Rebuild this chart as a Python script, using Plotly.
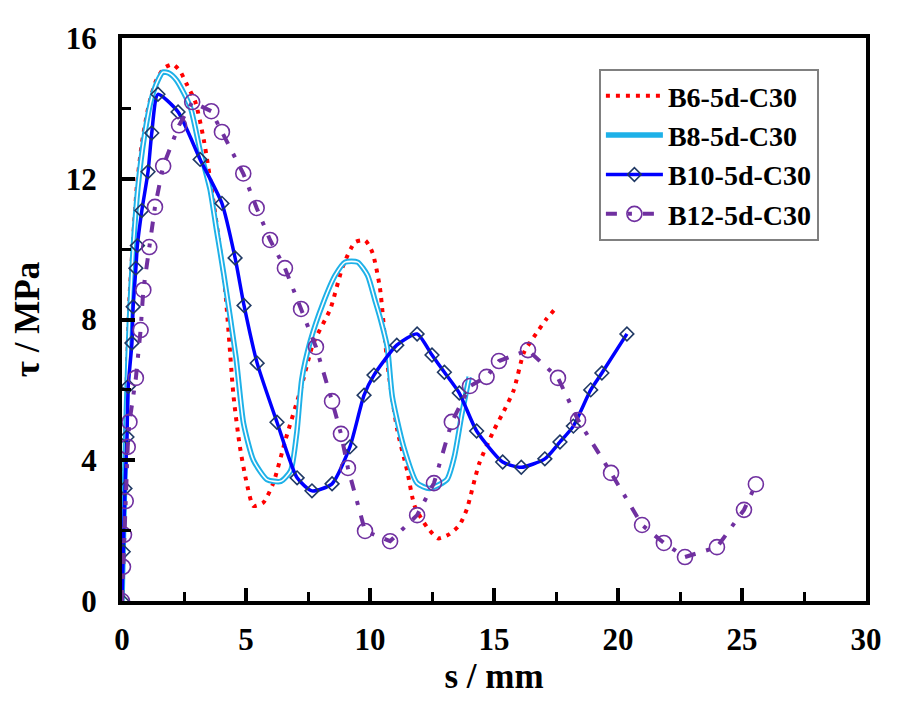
import plotly.graph_objects as go

# ---------------- data ----------------
b6_s = [0, 0.05, 0.1, 0.18, 0.3, 0.45, 0.6, 0.8, 1.05, 1.35, 1.7, 2.05, 2.35, 2.6, 2.95,
        3.3, 3.7, 4.15, 4.5, 4.75, 5.0, 5.3, 5.7, 6.1, 6.6, 7.2, 7.7, 8.4, 8.9, 9.4, 9.8,
        10.1, 10.4, 10.7, 11.1, 11.5, 11.8, 12.3, 12.75, 13.2, 13.6, 13.9, 14.4, 15.0,
        15.4, 15.8, 16.2, 16.7, 17.1, 17.5]
b6_t = [0, 1.5, 3.5, 6.0, 8.6, 10.3, 11.8, 13.0, 14.0, 14.75, 15.15, 15.25, 15.05, 14.7, 14.2,
        13.1, 11.3, 8.9, 5.8, 4.4, 3.45, 2.7, 2.8, 3.35, 4.6, 6.0, 7.3, 8.3, 9.5, 10.2, 10.25,
        9.9, 8.9, 6.75, 4.86, 3.7, 2.7, 2.1, 1.78, 1.9, 2.15, 2.6, 3.9, 4.86,
        5.4, 6.0, 7.05, 7.6, 8.0, 8.33]

b8_s = [0, 0.08, 0.18, 0.3, 0.45, 0.65, 0.9, 1.2, 1.45, 1.65, 1.9, 2.2, 2.75, 3.15, 3.55,
        3.8, 4.1, 4.6, 4.9, 5.3, 5.85, 6.4, 6.8, 7.05, 7.25, 7.6, 8.1, 8.6, 9.0, 9.5, 9.9,
        10.2, 10.4, 10.7, 10.9, 11.35, 11.9, 12.4, 13.1, 13.4, 13.7, 14.0]
b8_t = [0, 2.5, 5.5, 8.0, 10.0, 11.8, 13.2, 14.3, 14.8, 15.03, 15.0, 14.8, 14.05, 12.8, 11.7,
        10.6, 9.3, 6.9, 5.05, 4.0, 3.45, 3.4, 3.7, 4.8, 6.3, 7.4, 8.45, 9.26, 9.63, 9.63, 9.26,
        8.55, 8.07, 7.2, 5.8, 4.4, 3.35, 3.2, 3.45, 4.1, 5.3, 6.37]

b10_s = [0, 0.05, 0.12, 0.2, 0.25, 0.4, 0.45, 0.56, 0.62, 0.8, 1.05, 1.2, 1.45, 2.26, 3.15,
         4.03, 4.56, 4.92, 5.45, 6.25, 7.06, 7.66, 8.47, 9.19, 9.76, 10.16, 11.08, 11.9,
         12.5, 13.0, 13.6, 14.3, 15.35, 16.1, 17.05, 17.66, 18.2, 18.9, 19.35, 20.36]
b10_t = [0, 1.4, 3.2, 4.66, 6.1, 7.33, 8.36, 9.46, 10.1, 11.1, 12.2, 13.3, 14.4, 13.9, 12.55,
         11.3, 9.75, 8.4, 6.76, 5.08, 3.5, 3.13, 3.33, 4.38, 5.85, 6.42, 7.27, 7.59,
         6.99, 6.5, 5.91, 4.83, 3.95, 3.8, 4.04, 4.52, 4.97, 6.0, 6.48, 7.59]

b12_s = [0, 0.04, 0.08, 0.15, 0.23, 0.3, 0.56, 0.75, 0.86, 1.1, 1.33, 1.66, 2.3, 2.83, 3.6,
         4.03, 4.89, 5.43, 5.97, 6.57, 7.22, 7.82, 8.47, 8.83, 9.11, 9.8, 10.81, 11.9, 12.58,
         13.3, 14.03, 14.7, 15.2, 16.37, 17.58, 18.39, 19.72, 20.97, 21.85, 22.7, 23.99,
         25.08, 25.56]
b12_t = [0, 0.97, 1.88, 2.84, 4.38, 5.09, 6.34, 7.7, 8.84, 10.06, 11.2, 12.36, 13.52, 14.18, 13.92,
         13.33, 12.15, 11.17, 10.26, 9.46, 8.3, 7.22, 5.68, 4.75, 3.78, 1.99, 1.7, 2.44, 3.35,
         5.09, 6.11, 6.37, 6.82, 7.13, 6.34, 5.14, 3.64, 2.16, 1.65, 1.25, 1.53,
         2.59, 3.32]

names = ["B6-5d-C30", "B8-5d-C30", "B10-5d-C30", "B12-5d-C30"]
x_ticks = [0, 5, 10, 15, 20, 25, 30]
y_ticks = [0, 4, 8, 12, 16]

FONT = "Liberation Serif, Times New Roman, serif"

fig = go.Figure()

# B6 - red dotted
fig.add_trace(go.Scatter(
    x=b6_s, y=b6_t, mode="lines", name=names[0], legendgroup="g1",
    line=dict(color="#FF0000", width=4, dash="4px,6px", shape="spline", smoothing=0.6)))

# B8 - cyan double line (cyan stroke + white core)
fig.add_trace(go.Scatter(
    x=b8_s, y=b8_t, mode="lines", name=names[1], legendgroup="g2",
    line=dict(color="#1EB1E8", width=5.5, shape="spline", smoothing=0.6)))
fig.add_trace(go.Scatter(
    x=b8_s, y=b8_t, mode="lines", name=names[1], legendgroup="g2", showlegend=False,
    hoverinfo="skip",
    line=dict(color="#FFFFFF", width=1.6, shape="spline", smoothing=0.6)))

# B10 - blue line with open diamonds
fig.add_trace(go.Scatter(
    x=b10_s, y=b10_t, mode="lines+markers", name=names[2], legendgroup="g3",
    line=dict(color="#0000FF", width=3.5, shape="spline", smoothing=0.6),
    marker=dict(symbol="diamond-open", size=10.5, color="#1F3864", line=dict(width=1.6, color="#1F3864"))))

# B12 - purple dash-dot with open circles
fig.add_trace(go.Scatter(
    x=b12_s, y=b12_t, mode="lines+markers", name=names[3], legendgroup="g4",
    line=dict(color="#7030A0", width=4, dash="11px,11px,4px,11px"),
    marker=dict(symbol="circle-open", size=15, color="#7030A0", line=dict(width=1.6, color="#7030A0"))))

axis_common = dict(
    showline=True, linecolor="black", linewidth=4, mirror=True,
    ticks="inside", tickcolor="black", tickwidth=3.5, ticklen=13,
    showgrid=False, zeroline=False, automargin=False,
    tickfont=dict(family=FONT, size=31, color="black", weight="bold"),
)

fig.update_xaxes(
    range=[0, 30], tickvals=x_ticks, ticktext=[str(v) for v in x_ticks],
    minor=dict(ticks="inside", ticklen=9, tickwidth=3, tickcolor="black", dtick=2.5, tick0=0, showgrid=False),
    ticklabelstandoff=8,
    title=dict(text="s / mm", font=dict(family=FONT, size=35, color="black", weight="bold"), standoff=5),
    **axis_common)
fig.update_yaxes(
    range=[0, 16], tickvals=y_ticks, ticktext=[str(v) for v in y_ticks],
    minor=dict(ticks="inside", ticklen=9, tickwidth=3, tickcolor="black", dtick=2, tick0=0, showgrid=False),
    ticklabelstandoff=15,
    title=dict(text="τ / MPa", font=dict(family=FONT, size=35, color="black", weight="bold"), standoff=17),
    **axis_common)

# The page body has an 8px default margin; the figure is sized/offset to compensate.
fig.update_layout(
    width=903, height=708,
    margin=dict(l=114, r=45, t=30, b=115),
    paper_bgcolor="white", plot_bgcolor="white",
    showlegend=True,
    legend=dict(
        x=0.641, y=0.945, xanchor="left", yanchor="top",
        bgcolor="white", bordercolor="#808080", borderwidth=2,
        font=dict(family=FONT, size=28, color="black", weight="bold"),
        itemwidth=57, tracegroupgap=0,
    ),
)

fig.write_html("out.html")
